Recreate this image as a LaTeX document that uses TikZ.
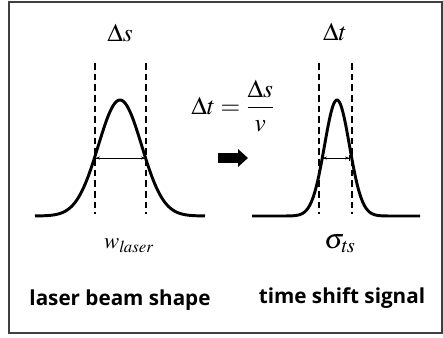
\documentclass[tikz,border=0pt]{standalone}
\usepackage{amsmath}
\usepackage{mathptmx}
\usepackage{fontspec}
\setsansfont{Open Sans}
\usepackage{tikz}
\usetikzlibrary{arrows.meta, positioning, calc}

\begin{document}
\begin{tikzpicture}[
    x=0.75pt, y=-0.75pt,
    pulse/.style={line width=2.2pt, line join=round},
    guide/.style={line width=0.8pt, dash pattern=on 5pt off 3pt},
    width/.style={{Bar[width=4pt]Stealth[length=3pt]}-{Stealth[length=3pt]Bar[width=4pt]}, line width=0.7pt},
    caption/.style={font=\sffamily\bfseries\fontsize{15.5}{18}\selectfont},
    symbol/.style={font=\fontsize{19}{21}\selectfont}
]

% Frame
\useasboundingbox (0,0) rectangle (443,338);
\draw[line width=0.8pt, black!75] (9,2) rectangle (442,333);

% Laser beam pulse
\draw[pulse] plot[domain=-85:85, samples=120] ({120+\x},{216-116*exp(-(\x*\x)/(2*21.7*21.7))});
\coordinate (l1t) at (95,63);  \coordinate (l1b) at (95,214);
\coordinate (l2t) at (146,63); \coordinate (l2b) at (146,214);
\draw[guide] (l1t) -- (l1b);
\draw[guide] (l2t) -- (l2b);
\coordinate (wl) at (95,158); \coordinate (wr) at (146,158);
\draw[width] (wl) -- (wr);

\node[symbol] (ds) at (120,33) {$\Delta s$};
\node[symbol, font=\fontsize{17}{19}\selectfont] (wlaser) at (129,246) {$w_{\mathit{laser}}$};

% Conversion
\node[symbol] (conv) at (233,106) {$\Delta t=\dfrac{\Delta s}{v}$};
\coordinate (fa) at (218,158); \coordinate (fb) at (248,158);
\draw[line width=7.5pt, -{Triangle[length=7.5pt, width=13pt]}] (fa) -- (fb);

% Time shift pulse
\draw[pulse] plot[domain=-85:83, samples=160] ({337+\x},{216-116*exp(-(\x*\x)/(2*12.5*12.5))});
\coordinate (r1t) at (319,63);  \coordinate (r1b) at (319,214);
\coordinate (r2t) at (352,63); \coordinate (r2b) at (352,214);
\draw[guide] (r1t) -- (r1b);
\draw[guide] (r2t) -- (r2b);
\coordinate (tl) at (322,158); \coordinate (tr) at (350,158);
\draw[width] (tl) -- (tr);

\node[symbol] (dt) at (335,32) {$\Delta t$};
\node[symbol, font=\fontsize{21}{23}\selectfont] (sig) at (340,244) {$\sigma_{\mathit{ts}}$};

% Captions
\node[caption] (cap1) at (120,300) {laser beam shape};
\node[caption] (cap2) at (342,298) {time shift signal};

\end{tikzpicture}
\end{document}
